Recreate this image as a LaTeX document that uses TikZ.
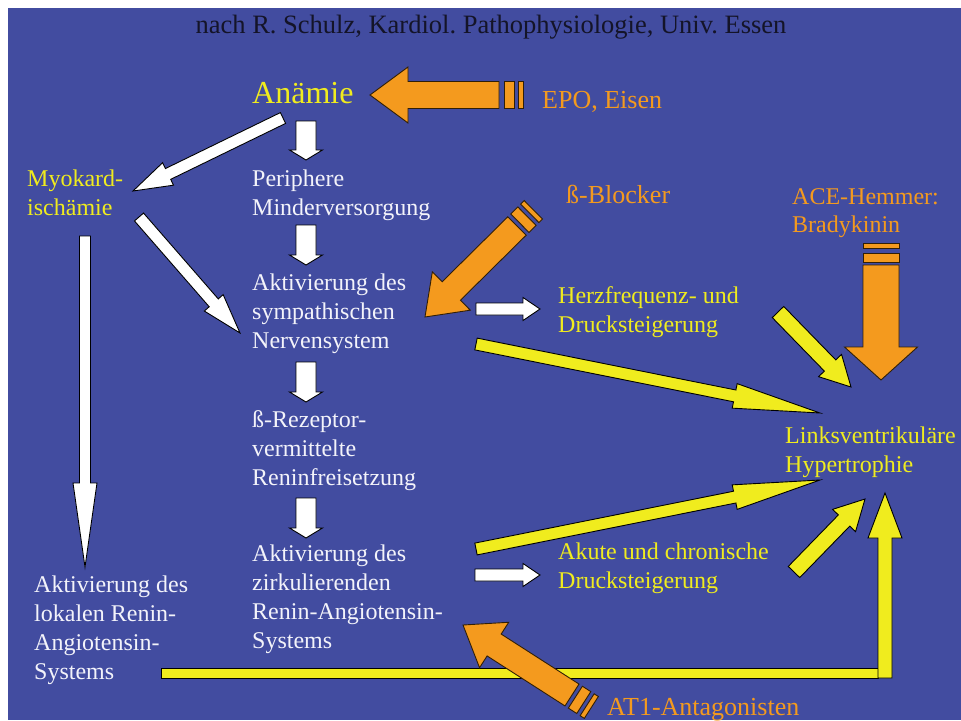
\documentclass[tikz,border=0pt]{standalone}
\usepackage{fontspec}
\setmainfont{Liberation Serif}
\usepackage{tikz}
\usetikzlibrary{calc}
\frenchspacing

\definecolor{folie}{RGB}{66,76,160}
\definecolor{gelb}{RGB}{240,236,30}
\definecolor{orangeton}{RGB}{244,154,30}
\definecolor{weisslich}{RGB}{243,243,250}
\definecolor{titelfarbe}{RGB}{20,20,40}

% Blockpfeil: [Stil]{von}{nach}{halbe Schaftbreite}{halbe Spitzenbreite}{Spitzenlaenge}
\newcommand{\blockpfeil}[6][]{%
  \coordinate (bh) at ($(#3)!#6!(#2)$);
  \draw[#1] ($(#2)!#4!90:(#3)$) -- ($(bh)!#4!90:(#3)$) -- ($(bh)!#5!90:(#3)$) -- (#3)
    -- ($(bh)!#5!-90:(#3)$) -- ($(bh)!#4!-90:(#3)$) -- ($(#2)!#4!-90:(#3)$) -- cycle;}
% Streifen hinter dem Schaft: [Stil]{Schaftende}{Spitze}{ab}{bis}{halbe Breite}
\newcommand{\kappe}[6][]{%
  \coordinate (k1) at ($(#2)!-#4!(#3)$);
  \coordinate (k2) at ($(#2)!-#5!(#3)$);
  \draw[#1] ($(k1)!#6!90:(#3)$) -- ($(k2)!#6!90:(#3)$) -- ($(k2)!#6!-90:(#3)$) -- ($(k1)!#6!-90:(#3)$) -- cycle;}

\begin{document}
\begin{tikzpicture}[x=1pt,y=-1pt,
	txt/.style={anchor=base west,inner sep=0pt,align=left,font=\fontsize{24}{29}\selectfont},
	weisstxt/.style={txt,text=weisslich},
	gelbtxt/.style={txt,text=gelb},
	orangetxt/.style={txt,text=orangeton,font=\fontsize{26}{29}\selectfont},
	weisspfeil/.style={draw=black,line width=0.9pt,fill=white},
	gelbpfeil/.style={draw=black,line width=0.9pt,fill=gelb},
	orangepfeil/.style={draw=black!80!orangeton,line width=0.9pt,fill=orangeton}]
	\fill[white] (0,0) rectangle (961,720);
	\fill[folie] (8,8) rectangle (961,720);

	% Texte (Position = Grundlinie der letzten Zeile)
	\node[anchor=base,inner sep=0pt,text=titelfarbe,font=\fontsize{26.5}{30}\selectfont] (titel) at (491,33) {nach R. Schulz, Kardiol. Pathophysiologie, Univ. Essen};
	\node[gelbtxt,font=\fontsize{32}{36}\selectfont] (anaemie) at (252,103) {Anämie};
	\node[orangetxt] (epo) at (542,108) {EPO, Eisen};
	\node[gelbtxt] (myokard) at (27,215) {Myokard-\\ischämie};
	\node[weisstxt] (periph) at (252,215) {Periphere\\Minderversorgung};
	\node[weisstxt] (sympath) at (252,348) {Aktivierung des\\sympathischen\\Nervensystem};
	\node[weisstxt] (renin) at (252,485) {ß-Rezeptor-\\vermittelte\\Reninfreisetzung};
	\node[weisstxt] (raas) at (252,648) {Aktivierung des\\zirkulierenden\\Renin-Angiotensin-\\Systems};
	\node[weisstxt] (lokal) at (34,679) {Aktivierung des\\lokalen Renin-\\Angiotensin-\\Systems};
	\node[orangetxt] (beta) at (566,203) {ß-Blocker};
	\node[orangetxt,font=\fontsize{24}{28}\selectfont] (ace) at (792,232) {ACE-Hemmer:\\Bradykinin};
	\node[gelbtxt] (herz) at (558,332) {Herzfrequenz- und\\Drucksteigerung};
	\node[gelbtxt] (lvh) at (785,472) {Linksventrikuläre\\Hypertrophie};
	\node[gelbtxt] (druck) at (558,588) {Akute und chronische\\Drucksteigerung};
	\node[orangetxt] (at1) at (607,715) {AT1-Antagonisten};

	% Pfeilenden
	\coordinate (anaemie-s) at (306,121); \coordinate (periph-n) at (306,160);
	\coordinate (periph-s) at (306,225); \coordinate (sympath-n) at (306,265);
	\coordinate (sympath-s) at (306,362); \coordinate (renin-n) at (306,402);
	\coordinate (renin-s) at (306,498); \coordinate (raas-n) at (306,538);
	\coordinate (anaemie-sw) at (283,118); \coordinate (myokard-ne) at (133,191);
	\coordinate (myokard-se) at (139,217); \coordinate (sympath-w) at (240,333);
	\coordinate (myokard-s) at (85,236); \coordinate (lokal-n) at (85,567);
	\coordinate (sympath-e) at (476,309); \coordinate (herz-w) at (540,309);
	\coordinate (raas-e) at (475,575); \coordinate (druck-w) at (540,575);
	\coordinate (sympath-se) at (476,344); \coordinate (lvh-w1) at (820,413);
	\coordinate (raas-ne) at (476,549); \coordinate (lvh-w2) at (820,480);
	\coordinate (herz-se) at (778,312); \coordinate (lvh-n) at (851,387);
	\coordinate (druck-ne) at (794,572); \coordinate (lvh-s1) at (865,499);
	\coordinate (lokal-e) at (161,673); \coordinate (knick) at (885,678); \coordinate (lvh-s2) at (885,493);
	\coordinate (epo-w) at (499,95); \coordinate (anaemie-e) at (370,95);
	\coordinate (beta-sw) at (517,226); \coordinate (sympath-ne) at (425,317);
	\coordinate (ace-s) at (881,265); \coordinate (lvh-ne) at (881,380);
	\coordinate (at1-nw) at (572,695); \coordinate (raas-se) at (463,625);

	% weisse Pfeile
	\blockpfeil[weisspfeil]{anaemie-s}{periph-n}{10pt}{16.5pt}{10pt}
	\blockpfeil[weisspfeil]{periph-s}{sympath-n}{10pt}{16.5pt}{10pt}
	\blockpfeil[weisspfeil]{sympath-s}{renin-n}{10pt}{16.5pt}{10pt}
	\blockpfeil[weisspfeil]{renin-s}{raas-n}{10pt}{16.5pt}{10pt}
	\blockpfeil[weisspfeil]{anaemie-sw}{myokard-ne}{6pt}{12.5pt}{39pt}
	\blockpfeil[weisspfeil]{myokard-se}{sympath-w}{6pt}{12.5pt}{40pt}
	\blockpfeil[weisspfeil]{myokard-s}{lokal-n}{5.5pt}{12pt}{84pt}
	\blockpfeil[weisspfeil]{sympath-e}{herz-w}{6pt}{11.5pt}{17pt}
	\blockpfeil[weisspfeil]{raas-e}{druck-w}{6pt}{11.5pt}{17pt}

	% gelbe Pfeile
	\blockpfeil[gelbpfeil]{sympath-se}{lvh-w1}{6pt}{12.5pt}{87pt}
	\blockpfeil[gelbpfeil]{raas-ne}{lvh-w2}{6pt}{12.5pt}{87pt}
	\blockpfeil[gelbpfeil]{herz-se}{lvh-n}{8pt}{16pt}{30pt}
	\blockpfeil[gelbpfeil]{druck-ne}{lvh-s1}{8pt}{16pt}{30pt}
	\draw[gelbpfeil] ($(lokal-e)+(0,-5)$) rectangle ($(knick)+(-7,0)$);
	\blockpfeil[gelbpfeil]{knick}{lvh-s2}{7pt}{17pt}{45pt}

	% orange Pfeile
	\blockpfeil[orangepfeil]{epo-w}{anaemie-e}{13.5pt}{28pt}{38pt}
	\kappe[orangepfeil]{epo-w}{anaemie-e}{5pt}{15pt}{13.5pt}
	\kappe[orangepfeil]{epo-w}{anaemie-e}{19pt}{24pt}{13.5pt}
	\blockpfeil[orangepfeil]{beta-sw}{sympath-ne}{13pt}{27pt}{37pt}
	\kappe[orangepfeil]{beta-sw}{sympath-ne}{4pt}{14pt}{13pt}
	\kappe[orangepfeil]{beta-sw}{sympath-ne}{18pt}{23pt}{13pt}
	\blockpfeil[orangepfeil]{ace-s}{lvh-ne}{18pt}{36.5pt}{33pt}
	\kappe[orangepfeil]{ace-s}{lvh-ne}{3pt}{12pt}{18pt}
	\kappe[orangepfeil]{ace-s}{lvh-ne}{17pt}{22pt}{18pt}
	\blockpfeil[orangepfeil]{at1-nw}{raas-se}{13pt}{27pt}{37pt}
	\kappe[orangepfeil]{at1-nw}{raas-se}{4pt}{14pt}{13pt}
	\kappe[orangepfeil]{at1-nw}{raas-se}{18pt}{23pt}{13pt}
\end{tikzpicture}
\end{document}
